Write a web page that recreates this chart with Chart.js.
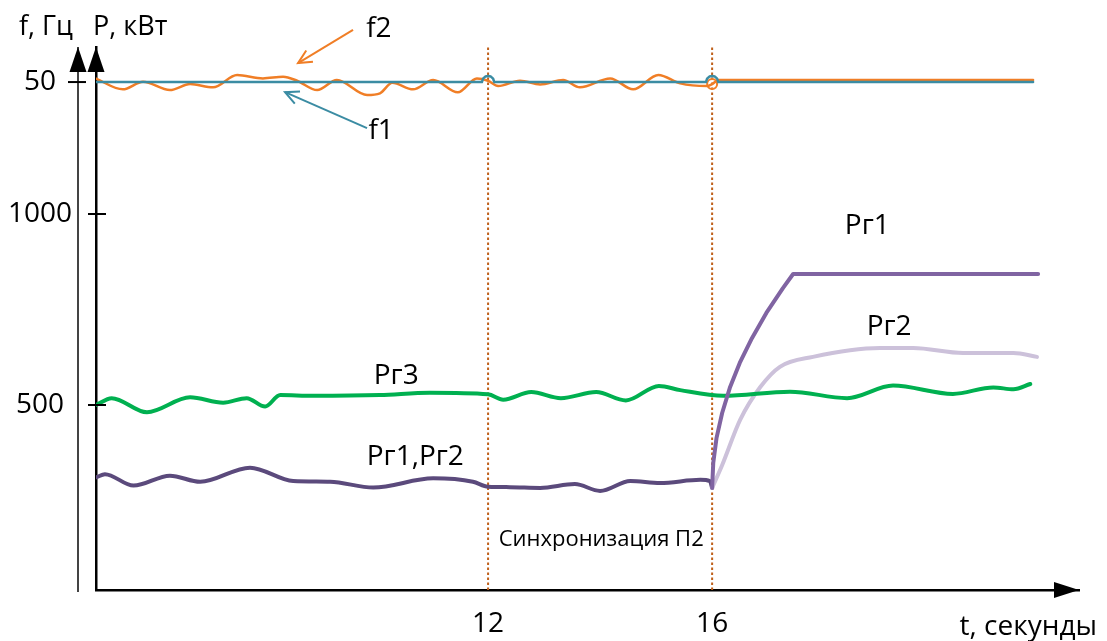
<!DOCTYPE html>
<html>
<head>
<meta charset="utf-8">
<script src="https://cdn.jsdelivr.net/npm/chart.js@4"></script>
<style>
  html, body { margin: 0; padding: 0; background: #fff; }
  #wrap { width: 1107px; height: 641px; }
</style>
</head>
<body>
<div id="wrap"><canvas id="chart"></canvas></div>
<script>
// time, seconds (x) ; frequency, Hz ; power, kW
const timeF1 = [5, 11.89, 11.91, 11.95, 12, 12.05, 12.09, 12.11, 15.89, 15.91, 15.95, 16, 16.05, 16.09, 16.11, 21.73];
const freqF1 = [50, 50, 50.034, 50.054, 50.059, 50.054, 50.034, 50, 50, 50.034, 50.054, 50.059, 50.054, 50.034, 50, 50];

const timeF2 = [5.00, 5.48, 5.84, 6.32, 6.68, 7.09, 7.52, 7.98, 8.34, 8.59, 8.95, 9.30, 9.84, 10.07, 10.29, 10.66, 11.02, 11.46, 11.80, 12.00, 12.18, 12.57, 12.93, 13.34, 13.64, 14.18, 14.59, 15.04, 15.43, 15.91, 16.00, 16.12, 21.73];
const freqF2 = [50.034, 49.928, 50.003, 49.921, 49.980, 49.948, 50.069, 50.036, 50.052, 50.013, 49.921, 50.020, 49.872, 49.889, 49.993, 49.928, 50.020, 49.899, 50.036, 50.013, 49.961, 50.013, 49.977, 50.020, 49.948, 50.036, 49.928, 50.069, 49.987, 49.961, 49.980, 50.020, 50.020];
const freqMarks = [16];

const timePr3 = [5.00, 5.28, 5.91, 6.68, 7.27, 7.69, 8.02, 8.29, 8.88, 10.07, 10.96, 12.00, 12.27, 12.77, 13.30, 13.93, 14.46, 15.05, 15.43, 16.20, 17.39, 18.41, 19.23, 20.30, 21.02, 21.38, 21.68];
const powerPr3 = [500, 518, 481, 520, 506, 518, 496, 526, 524, 526, 532, 528, 514, 534, 518, 534, 512, 550, 539, 524, 535, 518, 551, 529, 546, 541, 555];

const timePr12 = [5.01, 5.16, 5.67, 6.32, 6.86, 7.75, 8.52, 9.18, 9.95, 11.02, 11.73, 12.00, 12.39, 12.93, 13.55, 14.00, 14.54, 15.07, 15.79, 15.96, 16.00];
const powerPr12 = [311, 319, 289, 315, 299, 336, 301, 299, 284, 308, 299, 286, 285, 283, 293, 275, 301, 296, 304, 301, 283];

const timePr1 = [16.000, 16.020, 16.079, 16.179, 16.316, 16.493, 16.711, 16.968, 17.264, 17.446, 21.82];
const powerPr1 = [283, 348, 414, 479, 545, 610, 675, 741, 806, 843, 843];

const timePr2 = [16.00, 16.18, 16.50, 16.86, 17.21, 17.80, 19.00, 19.59, 20.48, 21.38, 21.80];
const powerPr2 = [283, 343, 461, 547, 600, 626, 649, 649, 636, 636, 626];

const syncTimes = [12, 16];
const xTicks = [12, 16];
const pTicks = [500, 1000];
const fTicks = [50];

const tMin = 5, tMax = 22.55;
const pMin = 15.7, pMax = 1437.2;
const fMin = 45, fMax = 50.345;

const notes = [
    { text: "f2", t: 10.05, p: 1484 },
    { text: "f1", t: 10.09, p: 1217 },
    { text: "Рг3", t: 10.36, p: 576 },
    { text: "Рг1,Рг2", t: 10.70, p: 364 },
    { text: "Рг1", t: 18.77, p: 969 },
    { text: "Рг2", t: 19.16, p: 704 }
];
const pointers = [
    { color: "#F07E26", from: [9.589, 1482], to: [8.607, 1395] },
    { color: "#3B8CA3", from: [9.839, 1225], to: [8.375, 1319] }
];

function zip(ts, vs) {
    return ts.map(function(t, i) { return { x: t, y: vs[i] }; });
}

function arrowHead(ctx, x1, y1, x2, y2, len) {
    const a = Math.atan2(y2 - y1, x2 - x1);
    ctx.beginPath();
    ctx.moveTo(x2 - len * Math.cos(a - 0.45), y2 - len * Math.sin(a - 0.45));
    ctx.lineTo(x2, y2);
    ctx.lineTo(x2 - len * Math.cos(a + 0.45), y2 - len * Math.sin(a + 0.45));
    ctx.stroke();
}

const decor = {
    id: "decor",
    afterDraw(chart) {
        const ctx = chart.ctx;
        const sx = chart.scales.x, sp = chart.scales.y, sf = chart.scales.yf;
        const area = chart.chartArea;
        const fAxisX = area.left - 18;
        ctx.save();
        ctx.fillStyle = "#000";
        ctx.strokeStyle = "#444";

        // frequency axis line
        ctx.lineWidth = 2;
        ctx.beginPath();
        ctx.moveTo(fAxisX, area.top);
        ctx.lineTo(fAxisX, area.bottom + 2);
        ctx.stroke();

        // axis arrowheads
        [fAxisX, area.left].forEach(function(cx) {
            ctx.beginPath();
            ctx.moveTo(cx, area.top);
            ctx.lineTo(cx - 8.5, area.top + 25);
            ctx.lineTo(cx + 8.5, area.top + 25);
            ctx.closePath();
            ctx.fill();
        });
        ctx.beginPath();
        ctx.moveTo(area.right, area.bottom);
        ctx.lineTo(area.right - 25, area.bottom - 8);
        ctx.lineTo(area.right - 25, area.bottom + 8);
        ctx.closePath();
        ctx.fill();

        // tick marks crossing the axes
        ctx.strokeStyle = "#000";
        pTicks.forEach(function(v) {
            const y = sp.getPixelForValue(v);
            ctx.beginPath();
            ctx.moveTo(area.left - 8, y);
            ctx.lineTo(area.left + 10, y);
            ctx.stroke();
        });
        fTicks.forEach(function(v) {
            const y = sf.getPixelForValue(v);
            ctx.beginPath();
            ctx.moveTo(fAxisX - 10, y);
            ctx.lineTo(fAxisX + 8, y);
            ctx.stroke();
        });

        // axis names
        ctx.font = "27px 'Open Sans'";
        ctx.textBaseline = "middle";
        ctx.textAlign = "right";
        ctx.fillText("f, Гц", fAxisX - 5, 27);
        ctx.textAlign = "left";
        ctx.fillText("P, кВт", area.left - 3, 27);
        ctx.font = "28px 'Open Sans'";
        ctx.textAlign = "right";
        ctx.fillText("t, секунды", area.right + 18, 627);

        // curve names
        ctx.textAlign = "center";
        notes.forEach(function(n) {
            ctx.fillText(n.text, sx.getPixelForValue(n.t), sp.getPixelForValue(n.p));
        });
        ctx.font = "22px 'Open Sans'";
        ctx.fillText("Синхронизация П2", sx.getPixelForValue(14.02), sp.getPixelForValue(147));

        // pointer arrows to f1 and f2
        ctx.lineWidth = 2;
        pointers.forEach(function(a) {
            const x1 = sx.getPixelForValue(a.from[0]), y1 = sp.getPixelForValue(a.from[1]);
            const x2 = sx.getPixelForValue(a.to[0]), y2 = sp.getPixelForValue(a.to[1]);
            ctx.strokeStyle = a.color;
            ctx.beginPath();
            ctx.moveTo(x1, y1);
            ctx.lineTo(x2, y2);
            ctx.stroke();
            arrowHead(ctx, x1, y1, x2, y2, 15);
        });
        ctx.restore();
    }
};

const lineBase = {
    pointRadius: 0,
    fill: false,
    cubicInterpolationMode: "monotone",
    borderCapStyle: "round",
    borderJoinStyle: "round"
};

const datasets = [];
datasets.push(Object.assign({}, lineBase, {
    label: "f1", data: zip(timeF1, freqF1), yAxisID: "yf",
    borderColor: "#3B8CA3", borderWidth: 2.5, tension: 0, cubicInterpolationMode: "default"
}));
datasets.push(Object.assign({}, lineBase, {
    label: "f2", data: zip(timeF2, freqF2), yAxisID: "yf",
    borderColor: "#F07E26", borderWidth: 2.5,
    pointRadius: function(c) { return freqMarks.includes(c.raw.x) ? 5 : 0; },
    pointBorderColor: "#F07E26", pointBackgroundColor: "rgba(0,0,0,0)", pointBorderWidth: 2
}));
datasets.push(Object.assign({}, lineBase, {
    label: "Рг1", data: zip(timePr1, powerPr1), yAxisID: "y",
    borderColor: "#8064A2", borderWidth: 4, tension: 0, cubicInterpolationMode: "default"
}));
datasets.push(Object.assign({}, lineBase, {
    label: "Рг3", data: zip(timePr3, powerPr3), yAxisID: "y",
    borderColor: "#00B050", borderWidth: 4
}));
datasets.push(Object.assign({}, lineBase, {
    label: "Рг2", data: zip(timePr2, powerPr2), yAxisID: "y",
    borderColor: "#CCC1DA", borderWidth: 4
}));
datasets.push(Object.assign({}, lineBase, {
    label: "Рг1,Рг2", data: zip(timePr12, powerPr12), yAxisID: "y",
    borderColor: "#5B4A7C", borderWidth: 4
}));
syncTimes.forEach(function(t) {
    datasets.push({
        label: "sync " + t, data: [{ x: t, y: pMin }, { x: t, y: pMax }], yAxisID: "y",
        borderColor: "#C0601A", borderWidth: 2, borderDash: [2.5, 2.5], pointRadius: 0, tension: 0
    });
});

Chart.defaults.font.family = "'Open Sans', sans-serif";
Chart.defaults.color = "#000";

const chart = new Chart(document.getElementById("chart"), {
    type: "line",
    data: { datasets: datasets },
    options: {
        responsive: true,
        maintainAspectRatio: false,
        animation: false,
        events: [],
        layout: { padding: { top: 47, right: 28, bottom: 0, left: 0 } },
        plugins: { legend: { display: false }, tooltip: { enabled: false } },
        scales: {
            x: {
                type: "linear", min: tMin, max: tMax,
                grid: { display: false },
                border: { color: "#000", width: 2.5 },
                ticks: { font: { size: 28 }, padding: 9, autoSkip: false, maxRotation: 0,
                    callback: function(v) { return String(v); } },
                afterBuildTicks: function(s) { s.ticks = xTicks.map(function(v) { return { value: v }; }); },
                afterFit: function(s) { s.height = 51; }
            },
            y: {
                type: "linear", position: "left", min: pMin, max: pMax,
                grid: { display: false },
                border: { color: "#000", width: 2.5 },
                ticks: { font: { size: 28 }, padding: 16, crossAlign: "center",
                    callback: function(v, i, ticks) { return ticks[i].text; } },
                // kW ticks plus the 50 Hz mark of the frequency scale
                afterBuildTicks: function(s) {
                    const pt = pTicks.map(function(v) { return { value: v, text: String(v) }; });
                    const ft = fTicks.map(function(f) {
                        return { value: pMin + (f - fMin) / (fMax - fMin) * (pMax - pMin), text: String(f) };
                    });
                    s.ticks = pt.concat(ft).sort(function(a, b) { return a.value - b.value; });
                },
                afterFit: function(s) { s.width = 96; }
            },
            yf: {
                type: "linear", display: false, min: fMin, max: fMax
            }
        }
    },
    plugins: [decor]
});
</script>
</body>
</html>
